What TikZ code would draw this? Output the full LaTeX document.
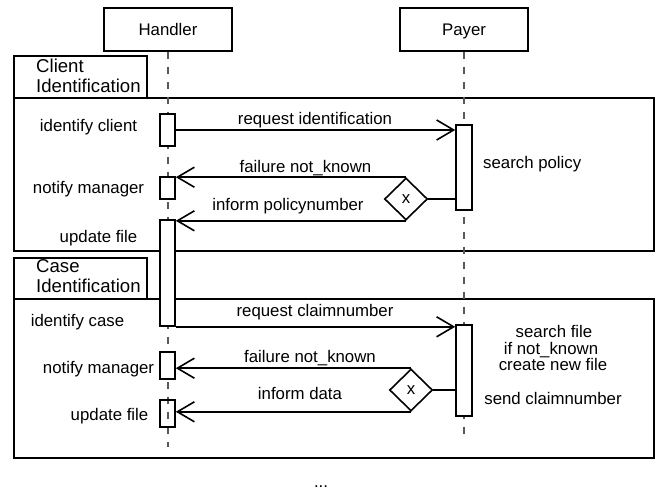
\documentclass[tikz,border=0pt]{standalone}
\usepackage{fontspec}
\setmainfont{Liberation Sans}
\usetikzlibrary{arrows.meta,shapes.geometric}
\begin{document}
\begin{tikzpicture}[x=1pt,y=-1pt,
  every node/.style={font=\fontsize{16.8}{19}\selectfont},
  lbl/.style={anchor=base, inner sep=0},
  lblw/.style={anchor=base west, inner sep=0, align=left},
  title/.style={anchor=base west, inner sep=0, align=left, font=\fontsize{18.6}{19.5}\selectfont},
  actor/.style={draw, line width=1.6pt, minimum width=128pt, minimum height=43pt, inner sep=0},
  frame/.style={draw, line width=1.6pt},
  lifeline/.style={draw=black!65, line width=1.1pt, dash pattern=on 7pt off 8pt},
  act/.style={draw, fill=white, line width=1.6pt, minimum width=15pt, inner sep=0},
  choice/.style={draw, fill=white, shape=diamond, line width=1.6pt, minimum width=43pt, minimum height=42pt, inner sep=0},
  msg/.style={line width=1.6pt, -{Straight Barb[length=17pt,width=20pt,line width=1.6pt]}},
  link/.style={line width=1.6pt}]
\useasboundingbox (0,0) rectangle (661,490);

% combined fragments
\draw[frame] (14,56) rectangle (147,98);
\draw[frame] (14,98) rectangle (654,251);
\draw[frame] (14,258) rectangle (147,299);
\draw[frame] (14,299) rectangle (654,458);
\node[title] (fr1) at (36,92) {Client\\Identification};
\node[title] (fr2) at (36,292) {Case\\Identification};

% participants and lifelines
\node[actor] (hand) at (168,29.5) {};
\node[lbl] (handt) at (168,35) {Handler};
\node[actor] (pay) at (464,29.5) {};
\node[lbl] (payt) at (464,35) {Payer};
\coordinate (hend) at (168,447);
\coordinate (pend) at (464,438);
\draw[lifeline] (hand.south) -- (hend);
\draw[lifeline] (pay.south) -- (pend);

% activations
\node[act, minimum height=32pt] (ha1) at (167.5,130) {};
\node[act, minimum height=22pt] (ha2) at (167.5,188) {};
\node[act, minimum height=106pt] (ha3) at (167.5,273) {};
\node[act, minimum height=27pt] (ha4) at (167.5,365.5) {};
\node[act, fill=none, minimum height=27pt] (ha5) at (167.5,413.5) {};
\node[act, minimum width=16pt, minimum height=85pt] (pa1) at (464,167.5) {};
\node[act, minimum width=16pt, minimum height=91pt] (pa2) at (464,370.5) {};

% choices
\node[choice] (d1) at (406,199) {x};
\node[choice] (d2) at (411,390) {x};
\draw[link] (d1.east) -- (d1.east -| pa1.west);
\draw[link] (d2.east) -- (d2.east -| pa2.west);

% messages
\draw[msg] (ha1.east) -- (ha1.east -| pa1.west);
\draw[msg] (d1.north) -- (d1.north -| ha2.east);
\draw[msg] (d1.south) -- (d1.south -| ha3.east);
\draw[msg] (ha3.south east) -- (ha3.south east -| pa2.west);
\draw[msg] (d2.north) -- (d2.north -| ha4.east);
\draw[msg] (d2.south) -- (d2.south -| ha5.east);

% message labels
\node[lbl] (m1) at (315,124) {request identification};
\node[lbl] (m2) at (305.5,172) {failure not\_known};
\node[lbl] (m3) at (288,210) {inform policynumber};
\node[lbl] (m4) at (315,316) {request claimnumber};
\node[lbl] (m5) at (310,362) {failure not\_known};
\node[lbl] (m6) at (300,399) {inform data};

% action labels
\node[lbl] (t1) at (88.5,131) {identify client};
\node[lbl] (t2) at (88.5,193) {notify manager};
\node[lbl] (t3) at (98.5,242) {update file};
\node[lbl] (t4) at (77.5,326) {identify case};
\node[lbl] (t5) at (98.5,373) {notify manager};
\node[lbl] (t6) at (109.5,420) {update file};
\node[lblw] (p1) at (483,168) {search policy};
\node[lbl] (p2) at (554,337) {search file};
\node[lbl] (p3) at (551,354) {if not\_known};
\node[lbl] (p4) at (553,370) {create new file};
\node[lbl] (p5) at (553,404) {send claimnumber};
\node[lbl] (more) at (321,487) {...};
\end{tikzpicture}
\end{document}
